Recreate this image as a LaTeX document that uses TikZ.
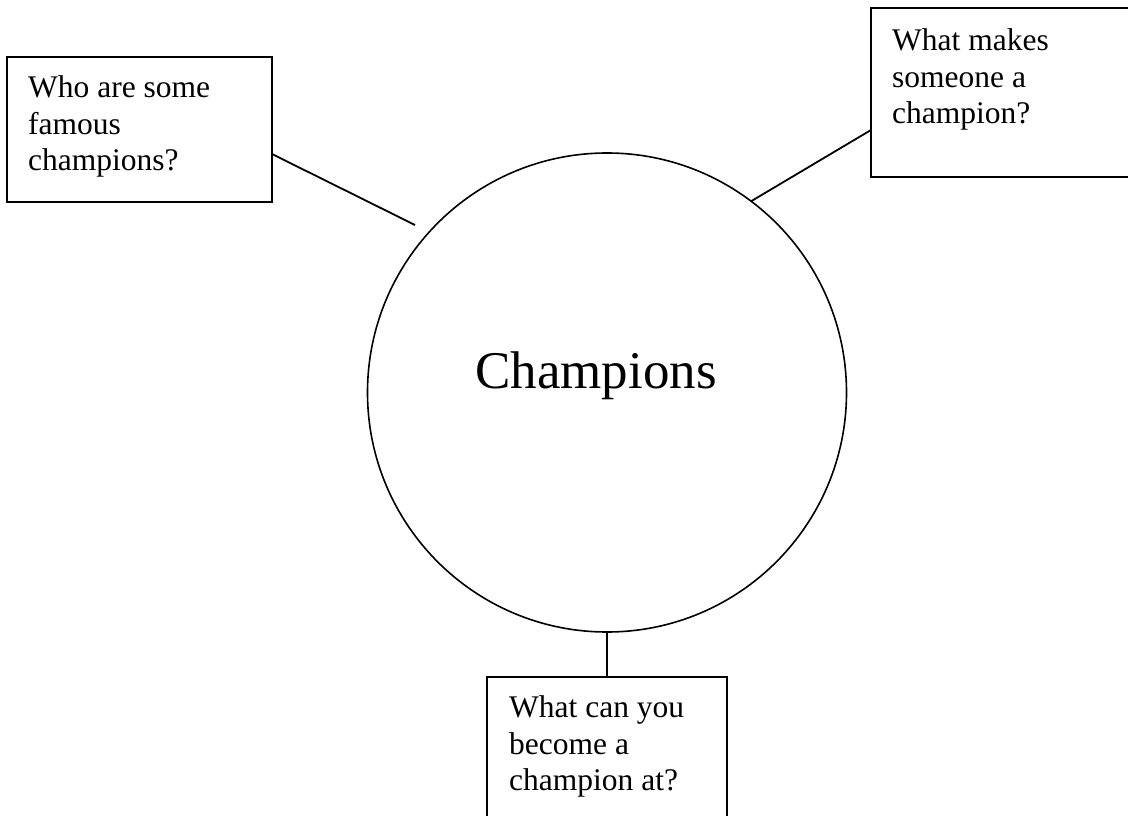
\documentclass[tikz,border=0pt]{standalone}
\usepackage{fontspec}
\setmainfont{Liberation Serif}
\begin{document}
\begin{tikzpicture}[x=1pt,y=-1pt,
  box/.style={draw,line width=1.8pt,rectangle,anchor=north west,inner sep=0pt,outer sep=0pt},
  qtext/.style={anchor=north west,inner sep=0pt,align=left,font=\fontsize{31.5}{36.5}\selectfont},
  link/.style={line width=1.8pt}]
\useasboundingbox (0,0) rectangle (1128,816);
\fill[white] (0,0) rectangle (1128,816);
% central circle
\node[draw,circle,line width=1.6pt,minimum size=479pt,inner sep=0pt,outer sep=0pt] (c) at (607,392.5) {};
\node[anchor=base west,inner sep=0pt,font=\fontsize{53}{60}\selectfont] (ct) at (475,388) {Champions};
% boxes
\node[box,minimum width=265pt,minimum height=145pt] (b1) at (7,57) {};
\node[box,minimum width=290pt,minimum height=169pt] (b2) at (871,8) {};
\node[box,minimum width=240pt,minimum height=210pt] (b3) at (487,677) {};
% texts
\node[qtext] (t1) at (28,75.8) {Who are some\\famous\\champions?};
\node[qtext] (t2) at (892,28.8) {What makes\\someone a\\champion?};
\node[qtext] (t3) at (509,695.8) {What can you\\become a\\champion at?};
% connectors
\coordinate (e1) at (415,225);
\draw[link] ([yshift=-24.5pt]b1.east) -- (e1);
\draw[link] ([yshift=-37.5pt]b2.west) -- (c.53);
\draw[link] (c.south) -- (c.south |- b3.north);
\end{tikzpicture}
\end{document}
